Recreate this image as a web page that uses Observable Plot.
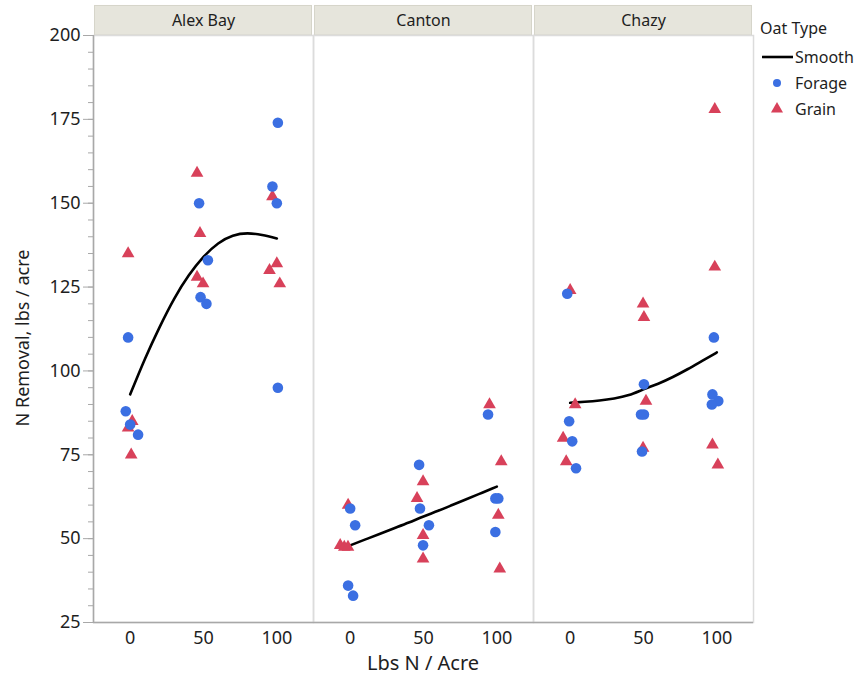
<!DOCTYPE html>
<html><head><meta charset="utf-8">
<script src="https://cdn.jsdelivr.net/npm/d3@7"></script>
<script src="https://cdn.jsdelivr.net/npm/@observablehq/plot@0.6"></script>
<style>
body{margin:0;background:#fff;font-family:"Segoe UI","Noto Sans","Open Sans",sans-serif;color:#1e1e1e;}
#wrap{position:relative;width:860px;height:678px;overflow:hidden;}
#wrap svg.plot{position:absolute;left:0;top:0;}
.lab{position:absolute;white-space:nowrap;font-size:18px;line-height:1;}
.leg{position:absolute;white-space:nowrap;font-size:16px;line-height:1;}
</style></head><body><div id="wrap"></div>
<script>
const locations = ["Alex Bay", "Canton", "Chazy"];
const oatTypes = ["Forage", "Grain"];
const typeColors = ["#3b6fe2", "#d8415a"];
const yTicks = [25, 50, 75, 100, 125, 150, 175, 200];
const xTicks = [0, 50, 100];

// Observed points (Lbs N / Acre, jittered as drawn; N Removal lbs / acre)
const alexForageN = [100.7, 97, 100, 47, 53, 48, 52, -1.4, 100.7, -3, 0, 5.4];
const alexForageRemoval = [174, 155, 150, 150, 133, 122, 120, 110, 95, 88, 84, 81];
const alexGrainN = [45.6, 97, 47.6, -1.4, 100, 95, 45.6, 49.7, 102, 1.4, -1.4, 0.7];
const alexGrainRemoval = [159, 152, 141, 135, 132, 130, 128, 126, 126, 85, 83, 75];
const cantonForageN = [94, 47, 99, 101, 0, 47.6, 3.4, 53.7, 99, 49.7, -1.4, 2];
const cantonForageRemoval = [87, 72, 62, 62, 59, 59, 54, 54, 52, 48, 36, 33];
const cantonGrainN = [95, 103, 49.7, 45.6, -1.4, 101, 49.7, -6.8, -4, -1.5, 49.7, 102];
const cantonGrainRemoval = [90, 73, 67, 62, 60, 57, 51, 48, 47.5, 47.5, 44, 41];
const chazyForageN = [-2, 98, 50.3, 97, 101, 96.6, 48.3, 50.3, -0.7, 1.4, 49, 4];
const chazyForageRemoval = [123, 110, 96, 93, 91, 90, 87, 87, 85, 79, 76, 71];
const chazyGrainN = [98.6, 98.6, 0, 49.7, 50.3, 51.7, 3.4, -4.8, 49.7, 97, -2.7, 100.7];
const chazyGrainRemoval = [178, 131, 124, 120, 116, 91, 90, 80, 77, 78, 73, 72];

// Smooth curves
const smoothN = [0, 10, 20, 30, 40, 50, 60, 70, 80, 90, 100];
const alexSmooth = [93, 103.5, 113, 121.5, 128.5, 134, 138, 140.3, 141, 140.5, 139.5];
const cantonSmooth = [48, 49.7, 51.4, 53.1, 54.8, 56.6, 58.3, 60.1, 61.9, 63.7, 65.5];
const chazySmooth = [90.5, 90.8, 91.2, 91.8, 92.8, 94.5, 96.2, 98.2, 100.5, 103, 105.5];

const xDomain = [-25, 125];
const yDomain = [25, 200];

const pointSets = [
  ["Alex Bay", "Forage", alexForageN, alexForageRemoval],
  ["Alex Bay", "Grain", alexGrainN, alexGrainRemoval],
  ["Canton", "Forage", cantonForageN, cantonForageRemoval],
  ["Canton", "Grain", cantonGrainN, cantonGrainRemoval],
  ["Chazy", "Forage", chazyForageN, chazyForageRemoval],
  ["Chazy", "Grain", chazyGrainN, chazyGrainRemoval]
];
const points = pointSets.flatMap(([loc, type, xs, ys]) => xs.map((x, i) => ({loc, type, n: x, removal: ys[i]})));
const smoothSets = [["Alex Bay", alexSmooth], ["Canton", cantonSmooth], ["Chazy", chazySmooth]];
const smooth = smoothSets.flatMap(([loc, ys]) => smoothN.map((x, i) => ({loc, n: x, removal: ys[i]})));
const minorTicks = d3.range(yDomain[0], yDomain[1] + 1, 5);

const chart = Plot.plot({
  width: 860, height: 678,
  marginLeft: 93, marginRight: 107, marginTop: 35, marginBottom: 56,
  style: {fontFamily: '"Segoe UI","Noto Sans","Open Sans",sans-serif', color: "#1e1e1e", background: "transparent"},
  fx: {domain: locations, padding: 0, axis: null},
  x: {domain: xDomain},
  y: {domain: yDomain},
  color: {domain: oatTypes, range: typeColors},
  symbol: {domain: oatTypes, range: ["circle", "triangle"]},
  marks: [
    Plot.rect(locations, {fx: d => d, x1: () => xDomain[0], x2: () => xDomain[1], y1: () => yDomain[1], y2: () => yDomain[1] + 8.8,
      fill: "#e6e5dc", stroke: "#d6d5ca", insetLeft: 1.5, insetRight: 1.5}),
    Plot.text(locations, {fx: d => d, text: d => d, frameAnchor: "top", lineAnchor: "middle", dy: -15, fontSize: 16, fill: "#1e1e1e"}),
    Plot.frame({stroke: "#dcdcdc", strokeWidth: 1.5}),
    Plot.ruleY([yDomain[0]], {stroke: "#a8a8a8", strokeWidth: 1.5}),
    Plot.ruleX([locations[0]], {fx: d => d, x: () => xDomain[0], y1: () => yDomain[0], y2: () => yDomain[1], stroke: "#a8a8a8", strokeWidth: 1.5}),
    Plot.axisY({ticks: minorTicks, tickSize: 5, tickFormat: () => "", label: null, stroke: "#a8a8a8"}),
    Plot.axisY({ticks: yTicks, tickSize: 10, tickPadding: 3, fontSize: 18, label: null, stroke: "#a8a8a8", fill: "#1e1e1e"}),
    Plot.axisX({ticks: xTicks, tickSize: 0, tickPadding: 9, fontSize: 18, label: null, fill: "#1e1e1e"}),
    Plot.line(smooth, {fx: "loc", x: "n", y: "removal", z: "loc", stroke: "#000", strokeWidth: 2.6, curve: "natural"}),
    Plot.dot(points.filter(d => d.type === "Grain"), {fx: "loc", x: "n", y: "removal", fill: "type", symbol: "type", r: 4.7}),
    Plot.dot(points.filter(d => d.type === "Forage"), {fx: "loc", x: "n", y: "removal", fill: "type", symbol: "type", r: 5.3})
  ]
});
chart.classList.add("plot");
const wrap = document.getElementById("wrap");
wrap.appendChild(chart);

function addText(cls, text, left, top, extra, size) {
  const el = document.createElement("div");
  el.className = cls;
  el.textContent = text;
  el.style.left = left + "px";
  el.style.top = top + "px";
  if (extra) el.style.transform = extra;
  if (size) el.style.fontSize = size + "px";
  wrap.appendChild(el);
  return el;
}
addText("lab", "N Removal, lbs / acre", 22, 338, "translate(-50%,-50%) rotate(-90deg)");
addText("lab", "Lbs N / Acre", 423, 663, "translate(-50%,-50%)", 20);

// Legend
addText("leg", "Oat Type", 760, 28, "translateY(-50%)");
const legendItems = ["Smooth", ...oatTypes];
const legSvg = d3.select(wrap).append("svg").style("position", "absolute").style("left", "755px").style("top", "40px")
  .attr("width", 45).attr("height", 85);
legSvg.append("line").attr("x1", 7).attr("x2", 38).attr("y1", 17).attr("y2", 17).attr("stroke", "#000").attr("stroke-width", 2.6);
legSvg.append("path").attr("d", d3.symbol(d3.symbolCircle, Math.PI * 16)()).attr("transform", "translate(22,43)").attr("fill", typeColors[0]);
legSvg.append("path").attr("d", d3.symbol(d3.symbolTriangle, Math.PI * 20)()).attr("transform", "translate(22,69)").attr("fill", typeColors[1]);
legendItems.forEach((t, i) => addText("leg", t, 795, 57 + i * 26, "translateY(-50%)"));
</script></body></html>
